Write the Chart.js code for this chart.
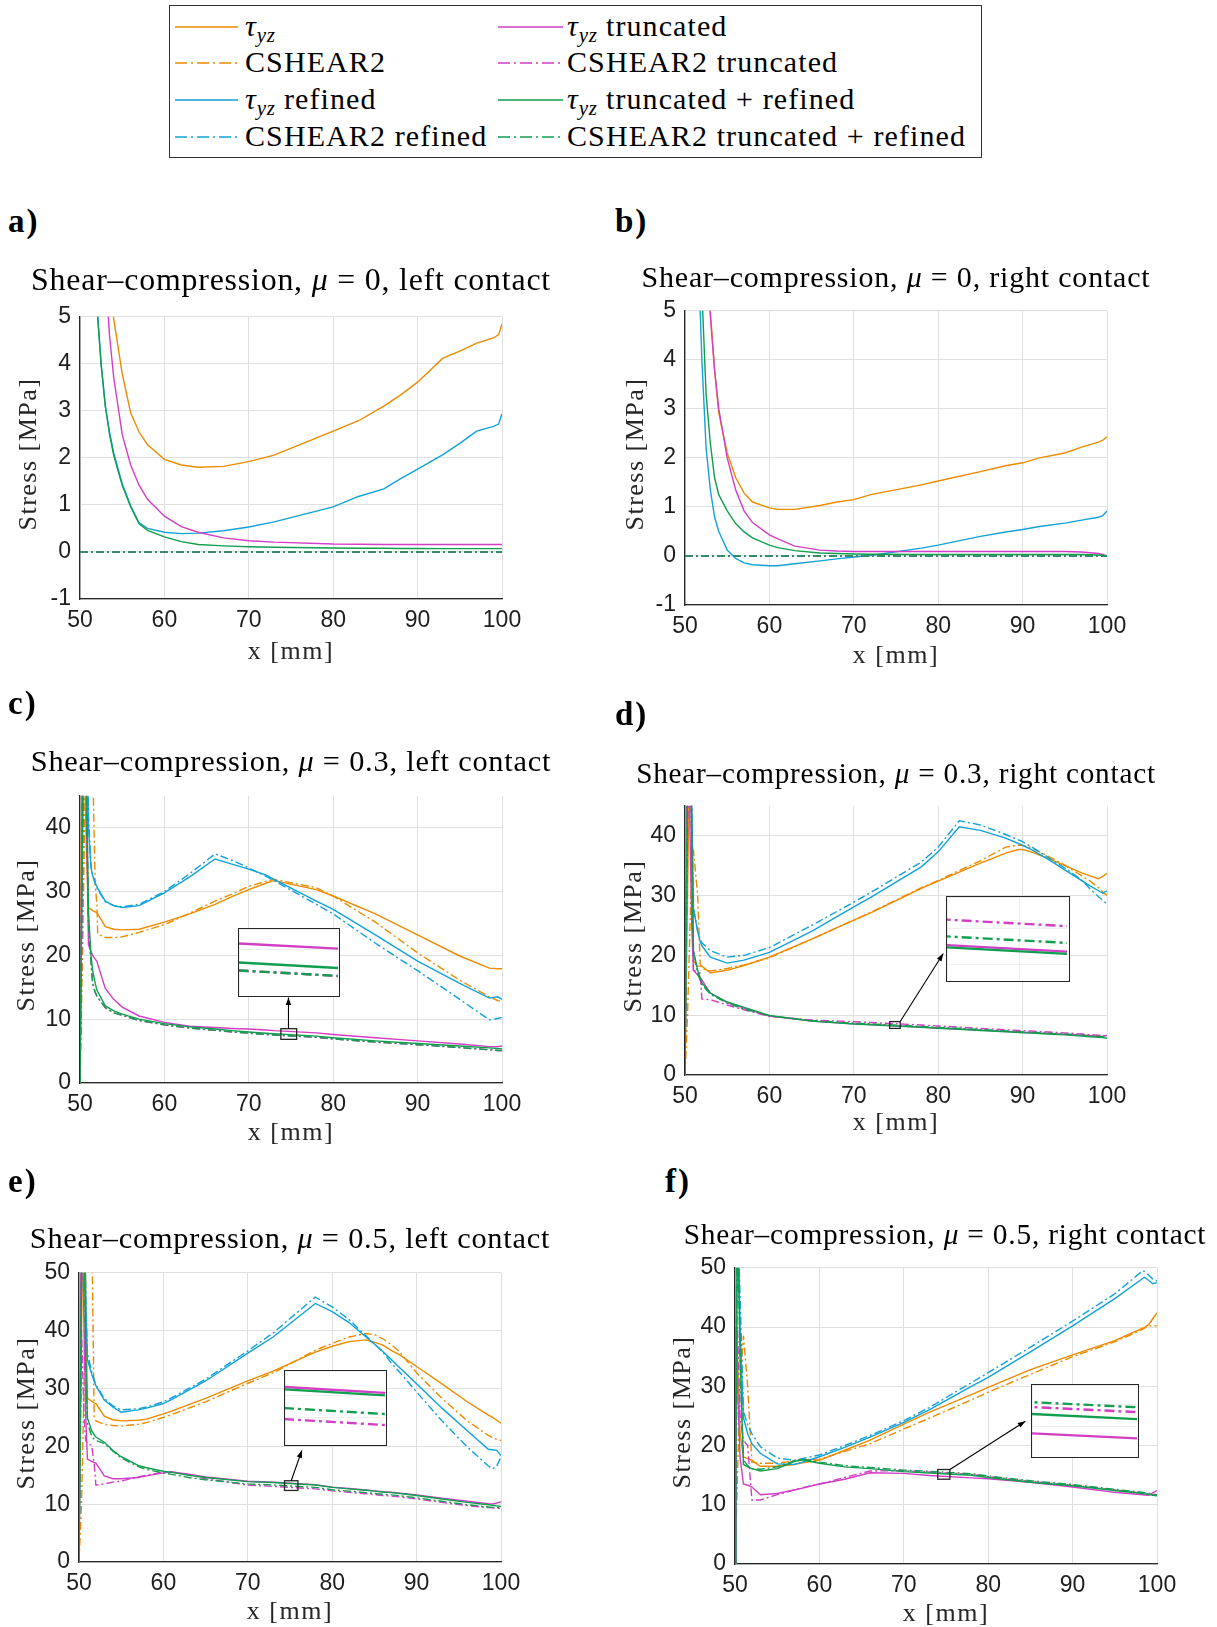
<!DOCTYPE html>
<html>
<head>
<meta charset="utf-8">
<title>Shear-compression stress</title>
<script src="https://cdn.jsdelivr.net/npm/chart.js@4.4.1/dist/chart.umd.min.js"></script>
<style>
  body { margin: 0; background: #fff; width: 1217px; height: 1627px; position: relative; overflow: hidden;
         font-family: "Liberation Serif", "Times New Roman", serif; color: #000; }
  canvas { display: block; }
  .ttl { position: absolute; width: 800px; text-align: center; line-height: 36px; white-space: nowrap; letter-spacing: 0.8px; }
  .ttl span { font-size: 30px; }
  .lbl { position: absolute; font-weight: bold; font-size: 33px; letter-spacing: 2px; line-height: 36px; }
  .axt { position: absolute; width: 300px; height: 30px; line-height: 30px; text-align: center; white-space: nowrap;
         font-size: 26px; letter-spacing: 1.5px; color: #262626; }
  .yt { transform: rotate(-90deg); }
  #legend { position: absolute; left: 169px; top: 5px; width: 813px; height: 153px; box-sizing: border-box; border: 1.2px solid #333; }
  .li { position: absolute; font-size: 30px; letter-spacing: 1.1px; line-height: 32px; white-space: nowrap; }
  .li sub, .ttl sub { font-size: 0.7em; font-style: italic; vertical-align: -0.3em; line-height: 0; letter-spacing: 0.5px; }
  .inset { position: absolute; box-sizing: border-box; border: 1.5px solid #262626; background: #fff; }
</style>
</head>
<body>
<div id="legend"></div>
<script>
// Shear stress along the contact, six load cases.

const NAMES = ["τyz", "CSHEAR2", "τyz refined", "CSHEAR2 refined",
  "τyz truncated", "CSHEAR2 truncated", "τyz truncated + refined", "CSHEAR2 truncated + refined"];
const COLORS = ["#ED8B00", "#ED8B00", "#12A2D8", "#12A2D8", "#D23EC6", "#D23EC6", "#119E4E", "#119E4E"];

const X_TICKS = [50, 60, 70, 80, 90, 100];
const Y_TICKS_MU0 = [-1, 0, 1, 2, 3, 4, 5];
const Y_TICKS_MU3 = [0, 10, 20, 30, 40];
const Y_TICKS_MU5 = [0, 10, 20, 30, 40, 50];

// CSHEAR2 is zero everywhere for mu = 0
const X_EDGE = [50, 100];
const ZERO_LINE = [0, 0];

// a) mu = 0, left contact
const XA = [50, 51, 52, 52.5, 53, 53.5, 54, 55, 56, 57, 58, 60, 62, 64, 67, 70, 73, 80, 83, 86, 88, 90, 93, 95, 97, 99, 99.6, 100];
const A_TAU = [40, 20, 10, 8.5, 7, 5.8, 4.95, 3.79, 2.96, 2.55, 2.28, 1.97, 1.85, 1.8, 1.82, 1.92, 2.06, 2.57, 2.79, 3.1, 3.34, 3.61, 4.12, 4.27, 4.44, 4.55, 4.62, 4.85];
const A_TAU_REF = [40, 12, 5.3, 4.0, 3.1, 2.55, 2.1, 1.45, 0.98, 0.62, 0.5, 0.42, 0.39, 0.4, 0.45, 0.53, 0.64, 0.96, 1.18, 1.34, 1.56, 1.76, 2.07, 2.31, 2.57, 2.67, 2.72, 2.94];
const A_TAU_TR = [40, 20, 9, 7.5, 6.0, 4.6, 3.7, 2.5, 1.85, 1.42, 1.12, 0.76, 0.54, 0.42, 0.3, 0.24, 0.21, 0.17, 0.165, 0.16, 0.16, 0.16, 0.16, 0.16, 0.16, 0.16, 0.16, 0.16];
const A_TAU_TRREF = [40, 12, 5.2, 4.0, 3.1, 2.5, 2.05, 1.42, 0.96, 0.6, 0.46, 0.32, 0.22, 0.16, 0.13, 0.11, 0.1, 0.085, 0.08, 0.08, 0.075, 0.075, 0.07, 0.07, 0.07, 0.07, 0.07, 0.07];

// b) mu = 0, right contact
const XB = [50, 51, 51.8, 52, 52.5, 53, 53.5, 54, 55, 56, 57, 58, 60, 61, 63, 66, 68, 70, 72, 78, 80, 85, 88, 90, 92, 95, 97, 99, 99.5, 100];
const B_TAU = [40, 20, 10, 8.5, 6.5, 5.0, 3.8, 2.92, 2.1, 1.6, 1.28, 1.1, 0.98, 0.95, 0.95, 1.03, 1.1, 1.15, 1.25, 1.45, 1.53, 1.72, 1.84, 1.9, 2.0, 2.1, 2.22, 2.32, 2.36, 2.43];
const B_TAU_REF = [40, 12, 5.0, 4.0, 2.2, 1.35, 0.8, 0.5, 0.12, -0.05, -0.14, -0.18, -0.2, -0.2, -0.16, -0.1, -0.06, -0.02, 0.01, 0.16, 0.22, 0.4, 0.49, 0.54, 0.6, 0.67, 0.73, 0.79, 0.82, 0.92];
const B_TAU_TR = [40, 20, 10, 8.5, 6.3, 4.9, 3.8, 3.0, 2.0, 1.35, 0.92, 0.68, 0.43, 0.35, 0.2, 0.12, 0.1, 0.09, 0.09, 0.09, 0.09, 0.09, 0.09, 0.09, 0.09, 0.09, 0.08, 0.05, 0.03, 0.0];
const B_TAU_TRREF = [40, 12, 6.5, 5.4, 3.3, 2.3, 1.6, 1.25, 0.92, 0.66, 0.49, 0.37, 0.22, 0.17, 0.11, 0.06, 0.05, 0.04, 0.035, 0.03, 0.03, 0.03, 0.03, 0.03, 0.03, 0.03, 0.03, 0.02, 0.01, 0.0];

// c) mu = 0.3, left contact
const XC = [50, 50.3, 50.6, 50.8, 51, 51.3, 51.5, 51.8, 52, 52.1, 53, 54, 55, 57, 60, 63, 66, 68, 70, 72, 73, 78, 80, 85, 90, 95, 98.5, 99.5, 100];
const C_TAU = [0, 70, 45, 35, 27.5, 27.2, 27.0, 26.8, 26.7, 26.5, 24.5, 24.1, 24.0, 24.1, 25.2, 26.5, 28.0, 29.2, 30.3, 31.3, 31.7, 30.3, 29.3, 26.5, 23.2, 19.9, 18.0, 17.9, 17.9];
const C_CS = [0, 20, 45, 70, 80, 70, 50, 31, 28, 23.3, 22.8, 22.8, 22.9, 23.6, 24.8, 26.6, 28.5, 29.6, 30.8, 31.6, 31.9, 30.6, 29.3, 25.2, 20.4, 16.1, 13.5, 12.9, 12.8];
const C_TAU_REF = [0, 40, 70, 60, 40, 33.8, 32.5, 31.3, 30.8, 30.5, 28.5, 27.8, 27.5, 27.8, 29.8, 32.3, 35.1, 34.3, 33.5, 32.6, 31.9, 28.5, 27.2, 23.2, 19.1, 15.6, 13.3, 13.5, 13.1];
const C_CS_REF = [0, 40, 70, 60, 42, 34, 32.5, 31.3, 30.6, 30.3, 28.4, 27.8, 27.6, 28.0, 30.0, 32.8, 35.9, 34.9, 33.7, 32.4, 31.7, 28.0, 26.5, 21.9, 17.6, 13.1, 9.9, 10.1, 10.3];
const C_TAU_TR = [0, 50, 70, 40, 21.7, 20.6, 20.0, 19.4, 19.1, 18.6, 14.8, 13.1, 11.9, 10.5, 9.5, 8.9, 8.7, 8.55, 8.45, 8.3, 8.2, 7.85, 7.6, 7.1, 6.6, 6.1, 5.7, 5.7, 5.8];
const C_CS_TR = [0, 30, 70, 45, 25, 19, 15.6, 14.2, 13.6, 13.4, 11.8, 11.0, 10.6, 9.8, 9.1, 8.6, 8.25, 8.0, 7.8, 7.6, 7.52, 7.15, 6.9, 6.4, 6.0, 5.55, 5.2, 5.1, 5.1];
const C_TAU_TRREF = [0, 40, 70, 45, 27, 20, 17.6, 15.6, 14.6, 14.3, 12.1, 11.3, 10.8, 10.0, 9.3, 8.8, 8.45, 8.2, 8.0, 7.8, 7.72, 7.35, 7.1, 6.6, 6.2, 5.8, 5.5, 5.4, 5.35];
const C_CS_TRREF = [0, 50, 60, 40, 25, 19, 15.6, 14.2, 13.6, 13.4, 11.8, 11.0, 10.6, 9.8, 9.1, 8.6, 8.25, 8.0, 7.8, 7.6, 7.52, 7.15, 6.9, 6.4, 6.0, 5.55, 5.2, 5.1, 5.1];

// d) mu = 0.3, right contact
const XD = [50, 50.3, 50.6, 50.8, 51, 51.5, 51.8, 52, 53, 55, 57, 60, 65, 70, 72, 78, 80, 82.5, 85, 88, 89.5, 90, 91, 93, 95, 97, 98, 99, 99.5, 100];
const D_TAU = [0, 30, 60, 40, 19, 18.2, 18.2, 18.2, 17.1, 17.5, 18.3, 19.7, 22.7, 25.9, 27.1, 31.2, 32.4, 33.9, 35.4, 37.1, 37.7, 37.7, 37.3, 36.2, 35.0, 33.8, 33.3, 32.8, 33.2, 33.7];
const D_CS = [0, 10, 25, 35, 37.7, 30, 18.6, 17.8, 17.4, 17.8, 18.4, 19.6, 22.7, 25.9, 27.2, 31.3, 32.5, 34.2, 35.8, 38.1, 38.4, 38.4, 38.0, 36.6, 35.1, 33.3, 32.4, 31.3, 30.6, 30.0];
const D_TAU_REF = [0, 50, 70, 45, 27.8, 24, 22.3, 21.6, 19.7, 18.7, 19.2, 20.5, 24.0, 28.1, 29.7, 34.8, 37.3, 41.5, 40.9, 39.6, 38.7, 38.4, 37.7, 36.1, 34.3, 32.5, 31.6, 30.8, 30.4, 30.8];
const D_CS_REF = [0, 50, 70, 45, 28, 24, 22.8, 22.1, 20.8, 19.7, 20.0, 21.3, 25.0, 28.9, 30.5, 35.6, 38.1, 42.5, 41.8, 40.2, 39.3, 39.0, 38.2, 36.4, 34.6, 32.6, 31.1, 29.8, 29.2, 28.6];
const D_TAU_TR = [0, 70, 40, 25, 17.5, 16.7, 16.2, 15.9, 13.7, 12.1, 11.2, 9.85, 9.0, 8.55, 8.43, 8.0, 7.85, 7.7, 7.5, 7.3, 7.2, 7.15, 7.1, 6.95, 6.8, 6.65, 6.55, 6.45, 6.5, 6.6];
const D_CS_TR = [0, 40, 60, 30, 17.5, 17.2, 17.0, 12.7, 12.6, 11.7, 10.9, 9.8, 9.2, 8.9, 8.78, 8.35, 8.2, 8.0, 7.8, 7.55, 7.45, 7.4, 7.35, 7.2, 7.05, 6.85, 6.75, 6.65, 6.6, 6.5];
const D_TAU_TRREF = [0, 50, 70, 40, 20.8, 17.5, 16.2, 15.4, 13.7, 12.2, 11.3, 9.95, 9.0, 8.52, 8.4, 7.97, 7.82, 7.65, 7.45, 7.22, 7.1, 7.05, 7.0, 6.85, 6.7, 6.5, 6.4, 6.3, 6.25, 6.15];
const D_CS_TRREF = [0, 50, 70, 40, 20.8, 17.0, 15.8, 15.1, 13.5, 12.0, 11.0, 9.9, 9.1, 8.66, 8.55, 8.12, 7.96, 7.8, 7.6, 7.37, 7.25, 7.2, 7.15, 7.0, 6.85, 6.65, 6.55, 6.45, 6.4, 6.3];

// e) mu = 0.5, left contact
const XE = [50, 50.3, 50.6, 50.8, 51, 51.5, 51.8, 52, 53, 54, 55, 57, 58, 60, 61, 63, 65, 70, 73, 78, 80, 82, 84, 85, 86, 87, 88, 90, 93, 96, 98.5, 99, 99.5, 100];
const E_TAU = [0, 40, 70, 45, 28.3, 27.8, 27.5, 27.4, 25.2, 24.6, 24.4, 24.5, 24.7, 25.6, 26.1, 27.2, 28.3, 31.3, 33.0, 36.3, 37.3, 38.1, 38.4, 38.0, 37.5, 36.6, 35.8, 33.8, 30.8, 27.7, 25.4, 25.0, 24.5, 24.0];
const E_CS = [0, 10, 30, 60, 80, 60, 25.0, 24.4, 23.8, 23.6, 23.5, 23.8, 24.1, 25.0, 25.5, 26.6, 27.7, 30.9, 32.7, 36.6, 37.8, 38.9, 39.5, 39.3, 38.6, 37.6, 36.3, 32.7, 28.3, 24.4, 21.9, 21.5, 21.2, 21.0];
const E_TAU_REF = [0, 50, 70, 45, 35, 32.5, 31.2, 30.5, 28.0, 26.8, 25.9, 26.3, 26.6, 27.4, 28.1, 29.7, 31.3, 36.1, 38.9, 44.7, 43.3, 41.4, 38.9, 37.7, 36.4, 35.0, 33.6, 30.8, 26.6, 22.7, 19.5, 19.4, 19.3, 18.4];
const E_CS_REF = [0, 50, 70, 45, 36, 33, 31.5, 30.6, 28.3, 27.0, 26.3, 26.5, 26.8, 27.7, 28.4, 30.0, 31.6, 36.5, 39.6, 45.8, 44.1, 41.9, 39.1, 37.7, 36.3, 34.4, 32.8, 29.4, 24.4, 19.9, 16.6, 16.1, 16.6, 18.2];
const E_TAU_TR = [0, 70, 40, 25, 17.8, 17.4, 17.2, 17.1, 14.9, 14.4, 14.4, 14.6, 14.9, 15.4, 15.55, 15.2, 14.7, 13.95, 13.8, 13.38, 12.95, 12.7, 12.45, 12.3, 12.15, 12.05, 11.9, 11.6, 11.05, 10.5, 10.1, 10.05, 10.2, 10.4];
const E_CS_TR = [0, 40, 25, 21, 20.5, 20.2, 17, 13.3, 13.5, 13.8, 14.0, 14.7, 15.0, 15.55, 15.55, 15.1, 14.4, 13.3, 13.07, 12.65, 12.3, 12.05, 11.8, 11.65, 11.5, 11.4, 11.25, 10.9, 10.3, 9.75, 9.4, 9.35, 9.3, 9.3];
const E_TAU_TRREF = [0, 50, 60, 35, 24.9, 22.7, 22.0, 21.6, 20.7, 19.3, 18.2, 16.7, 16.3, 15.7, 15.5, 15.0, 14.6, 13.9, 13.75, 13.32, 12.9, 12.65, 12.4, 12.25, 12.1, 12.0, 11.85, 11.5, 10.9, 10.3, 9.9, 9.8, 9.7, 9.6];
const E_CS_TRREF = [0, 50, 60, 35, 24, 21.8, 21.2, 21.0, 20.5, 19.2, 18.0, 16.5, 16.0, 15.4, 15.15, 14.6, 14.2, 13.5, 13.32, 12.9, 12.5, 12.25, 12.0, 11.85, 11.7, 11.6, 11.45, 11.1, 10.5, 9.9, 9.5, 9.45, 9.4, 9.35];

// f) mu = 0.5, right contact
const XF = [50, 50.1, 50.3, 50.6, 51, 51.5, 52, 53, 55, 57, 58, 60, 63, 66, 70, 73, 78, 80, 85, 90, 95, 98.3, 98.5, 99, 99.5, 100];
const F_TAU = [0, 47, 35, 22, 18.1, 17.8, 17.5, 16.5, 16.5, 16.8, 17.1, 17.5, 19.2, 20.9, 23.6, 25.6, 28.6, 29.8, 32.8, 35.3, 37.7, 39.8, 39.9, 40.4, 41.4, 42.4];
const F_CS = [0, 5, 15, 30, 38.5, 30, 17.2, 17.0, 17.0, 17.4, 17.6, 17.7, 19.0, 20.3, 22.8, 24.6, 27.7, 29.0, 32.0, 35.0, 37.5, 39.6, 39.8, 40.2, 40.2, 40.2];
const F_TAU_REF = [0, 30, 60, 40, 24.7, 22.0, 20.3, 18.7, 16.9, 16.8, 17.2, 18.1, 19.7, 21.4, 23.9, 26.0, 30.0, 31.5, 35.8, 40.2, 44.8, 48.2, 48.4, 47.9, 47.3, 47.5];
const F_CS_REF = [0, 30, 60, 45, 25.8, 23.5, 22.0, 19.8, 17.9, 17.5, 17.8, 18.4, 20.0, 21.7, 24.2, 26.4, 30.6, 32.3, 36.6, 41.0, 45.6, 49.5, 49.4, 48.8, 48.1, 47.8];
const F_TAU_TR = [0, 40, 30, 18, 13.5, 13.3, 13.0, 11.7, 11.9, 12.5, 12.8, 13.5, 14.3, 15.4, 15.3, 14.93, 14.53, 14.4, 13.8, 13.0, 12.1, 11.7, 11.65, 11.6, 12.0, 12.4];
const F_CS_TR = [0, 10, 40, 25, 20.9, 20, 10.8, 10.8, 11.7, 12.5, 12.9, 13.5, 14.6, 15.7, 15.75, 15.53, 15.13, 14.75, 13.95, 13.3, 12.5, 12.0, 11.95, 11.85, 11.7, 11.6];
const F_TAU_TRREF = [0, 20, 60, 35, 16.8, 16.4, 16.1, 15.7, 16.1, 17.3, 17.6, 17.0, 16.4, 16.1, 15.6, 15.37, 14.97, 14.6, 13.8, 13.2, 12.4, 11.9, 11.85, 11.75, 11.6, 11.5];
const F_CS_TRREF = [0, 20, 60, 35, 17.6, 16.6, 16.1, 16.0, 16.4, 17.4, 17.7, 17.2, 16.6, 16.3, 15.85, 15.64, 15.24, 14.85, 14.05, 13.4, 12.6, 12.1, 12.05, 11.95, 11.8, 11.7];

// page layout: plot box [left, top, right, bottom] in px, text anchors
const PANELS = [
  { tag: "a)", lbl: [8, 221], box: [80, 308, 502, 599], yRange: [-1, 5], yTicks: Y_TICKS_MU0,
    title: "Shear–compression, <i>μ</i> = 0, left contact", tc: [291, 280], tw: 522, ytx: 28, xty: 651,
    series: [[XA, A_TAU], [X_EDGE, ZERO_LINE], [XA, A_TAU_REF], [X_EDGE, ZERO_LINE],
             [XA, A_TAU_TR], [X_EDGE, ZERO_LINE], [XA, A_TAU_TRREF], [X_EDGE, ZERO_LINE]] },
  { tag: "b)", lbl: [615, 221], box: [685, 302, 1107, 605], yRange: [-1, 5], yTicks: Y_TICKS_MU0,
    title: "Shear–compression, <i>μ</i> = 0, right contact", tc: [896, 277], tw: 509, ytx: 635, xty: 655,
    series: [[XB, B_TAU], [X_EDGE, ZERO_LINE], [XB, B_TAU_REF], [X_EDGE, ZERO_LINE],
             [XB, B_TAU_TR], [X_EDGE, ZERO_LINE], [XB, B_TAU_TRREF], [X_EDGE, ZERO_LINE]] },
  { tag: "c)", lbl: [8, 703], box: [80, 787, 502, 1083], yRange: [0, 45], yTicks: Y_TICKS_MU3,
    title: "Shear–compression, <i>μ</i> = 0.3, left contact", tc: [291, 761], tw: 521, ytx: 26, xty: 1132,
    series: [[XC, C_TAU], [XC, C_CS], [XC, C_TAU_REF], [XC, C_CS_REF],
             [XC, C_TAU_TR], [XC, C_CS_TR], [XC, C_TAU_TRREF], [XC, C_CS_TRREF]],
    inset: { win: { x: [73.8, 75.67], y: [6.84, 8.51] }, box: { x: [68.76, 80.8], y: [13.48, 24.23] },
             arrow: [[74.7, 8.51], [74.7, 13.4]] } },
  { tag: "d)", lbl: [615, 714], box: [685, 797, 1107, 1075], yRange: [0, 45], yTicks: Y_TICKS_MU3,
    title: "Shear–compression, <i>μ</i> = 0.3, right contact", tc: [896, 773], tw: 519, ytx: 633, xty: 1122,
    series: [[XD, D_TAU], [XD, D_CS], [XD, D_TAU_REF], [XD, D_CS_REF],
             [XD, D_TAU_TR], [XD, D_CS_TR], [XD, D_TAU_TRREF], [XD, D_CS_TRREF]],
    inset: { win: { x: [74.25, 75.5], y: [7.79, 8.93] }, box: { x: [80.98, 95.57], y: [15.58, 29.98] },
             arrow: [[75.5, 8.93], [80.6, 20.3]] } },
  { tag: "e)", lbl: [8, 1181], box: [79, 1264, 501, 1562], yRange: [0, 50], yTicks: Y_TICKS_MU5,
    title: "Shear–compression, <i>μ</i> = 0.5, left contact", tc: [290, 1238], tw: 521, ytx: 26, xty: 1611,
    series: [[XE, E_TAU], [XE, E_CS], [XE, E_TAU_REF], [XE, E_CS_REF],
             [XE, E_TAU_TR], [XE, E_CS_TR], [XE, E_TAU_TRREF], [XE, E_CS_TRREF]],
    inset: { win: { x: [74.35, 75.94], y: [12.37, 14.05] }, box: { x: [74.34, 86.55], y: [20.0, 33.28] },
             arrow: [[75.14, 14.05], [76.41, 19.3]] } },
  { tag: "f)", lbl: [665, 1181], box: [735, 1259, 1157, 1564], yRange: [0, 50], yTicks: Y_TICKS_MU5,
    title: "Shear–compression, <i>μ</i> = 0.5, right contact", tc: [945, 1234], tw: 522, ytx: 682, xty: 1613,
    series: [[XF, F_TAU], [XF, F_CS], [XF, F_TAU_REF], [XF, F_CS_REF],
             [XF, F_TAU_TR], [XF, F_CS_TR], [XF, F_TAU_TRREF], [XF, F_CS_TRREF]],
    inset: { win: { x: [74.02, 75.46], y: [14.31, 15.95] }, box: { x: [85.1, 97.9], y: [17.82, 30.44] },
             arrow: [[75.46, 15.95], [84.4, 24.1]] } },
];

const DASHDOT = [8, 3, 2, 3];
const INSET_DASH = [10, 4, 3, 4];
const AXW = 60, AXH = 42, PADT = 14, PADR = 30;
const INK = "#262626";

Chart.defaults.font.family = "'Liberation Sans', Arial, sans-serif";
Chart.defaults.color = INK;

function pts(xs, ys) { return xs.map((x, i) => ({ x, y: ys[i] })); }

function makeDatasets(series, width, dash) {
  return series.map(([xs, ys], i) => ({
    label: NAMES[i], data: pts(xs, ys),
    borderColor: COLORS[i], borderWidth: width, borderDash: i % 2 ? dash : [],
    pointRadius: 0, tension: 0, fill: false, clip: 0, order: 8 - i,
  }));
}

// little box around the zoomed window + arrow to the inset
function markPlugin(q) {
  return {
    id: "zoomMark",
    afterDatasetsDraw(chart) {
      const { ctx, scales: { x, y } } = chart;
      const px = v => x.getPixelForValue(v), py = v => y.getPixelForValue(v);
      ctx.save();
      ctx.strokeStyle = INK; ctx.lineWidth = 1.3;
      ctx.strokeRect(px(q.win.x[0]), py(q.win.y[1]), px(q.win.x[1]) - px(q.win.x[0]), py(q.win.y[0]) - py(q.win.y[1]));
      const x0 = px(q.arrow[0][0]), y0 = py(q.arrow[0][1]), x1 = px(q.arrow[1][0]), y1 = py(q.arrow[1][1]);
      ctx.strokeStyle = "#000"; ctx.lineWidth = 1.1;
      ctx.beginPath(); ctx.moveTo(x0, y0); ctx.lineTo(x1, y1); ctx.stroke();
      const a = Math.atan2(y1 - y0, x1 - x0), h = 8;
      ctx.beginPath(); ctx.moveTo(x1, y1);
      ctx.lineTo(x1 - h * Math.cos(a - 0.35), y1 - h * Math.sin(a - 0.35));
      ctx.lineTo(x1 - h * Math.cos(a + 0.35), y1 - h * Math.sin(a + 0.35));
      ctx.closePath(); ctx.fillStyle = "#000"; ctx.fill();
      ctx.restore();
    },
  };
}

function addText(cls, html, left, top) {
  const d = document.createElement("div");
  d.className = cls; d.innerHTML = html;
  d.style.left = left + "px"; d.style.top = top + "px";
  document.body.appendChild(d);
  return d;
}

function drawPanel(p) {
  const [L, T, R, B] = p.box;
  const cv = document.createElement("canvas");
  cv.width = R - L + AXW + PADR; cv.height = B - T + PADT + AXH;
  cv.style.cssText = `position:absolute;left:${L - AXW}px;top:${T - PADT}px`;
  document.body.appendChild(cv);

  const grid = { color: "#e0e0e0", lineWidth: 1, drawTicks: false };
  const border = { color: INK, width: 1.3 };
  const ticks = { color: "#1e1e1e", font: { size: 23 }, padding: 9, maxRotation: 0, callback: v => String(v) };

  const chart = new Chart(cv, {
    type: "line",
    data: { datasets: makeDatasets(p.series, 1.4, DASHDOT) },
    options: {
      responsive: false, animation: false, events: [],
      layout: { padding: { top: PADT, right: PADR, left: 0, bottom: 0 } },
      plugins: { legend: { display: false }, tooltip: { enabled: false } },
      scales: {
        x: { type: "linear", min: 50, max: 100, grid, border, ticks: { ...ticks, padding: 8 },
             afterBuildTicks: s => { s.ticks = X_TICKS.map(v => ({ value: v })); },
             afterFit: s => { s.height = AXH; } },
        y: { type: "linear", min: p.yRange[0], max: p.yRange[1], grid, border, ticks,
             afterBuildTicks: s => { s.ticks = p.yTicks.map(v => ({ value: v })); },
             afterFit: s => { s.width = AXW; } },
      },
    },
    plugins: p.inset ? [markPlugin(p.inset)] : [],
  });

  // texts
  const t = addText("ttl", `<span>${p.title}</span>`, p.tc[0] - 400, p.tc[1] - 18);
  const sp = t.firstChild;
  sp.style.fontSize = (30 * p.tw / sp.getBoundingClientRect().width).toFixed(2) + "px";
  addText("lbl", p.tag, p.lbl[0], p.lbl[1] - 18);
  addText("axt yt", "Stress [MPa]", p.ytx - 150, (T + B) / 2 - 15);
  addText("axt", "x [mm]", (L + R) / 2 - 150, p.xty - 15);

  if (!p.inset) return;
  const q = p.inset, xs = chart.scales.x, ys = chart.scales.y;
  const ox = L - AXW, oy = T - PADT;
  const left = ox + xs.getPixelForValue(q.box.x[0]), right = ox + xs.getPixelForValue(q.box.x[1]);
  const top = oy + ys.getPixelForValue(q.box.y[1]), bottom = oy + ys.getPixelForValue(q.box.y[0]);
  const div = document.createElement("div");
  div.className = "inset";
  div.style.cssText = `left:${left}px;top:${top}px;width:${right - left}px;height:${bottom - top}px`;
  const ic = document.createElement("canvas");
  ic.width = Math.round(right - left - 3); ic.height = Math.round(bottom - top - 3);
  div.appendChild(ic);
  document.body.appendChild(div);
  const igrid = { color: "#efefef", drawTicks: false };
  new Chart(ic, {
    type: "line",
    data: { datasets: makeDatasets(p.series, 2.4, INSET_DASH) },
    options: {
      responsive: false, animation: false, events: [], layout: { padding: 0 },
      plugins: { legend: { display: false }, tooltip: { enabled: false } },
      scales: {
        x: { type: "linear", min: q.win.x[0], max: q.win.x[1], ticks: { display: false }, grid: igrid, border: { display: false } },
        y: { type: "linear", min: q.win.y[0], max: q.win.y[1], ticks: { display: false }, grid: igrid, border: { display: false } },
      },
    },
  });
}

// legend
const LEG_ROWS = [26.7, 63.3, 100, 136.7];
const LEG_COLS = [[175, 238, 245], [498, 563, 567]];
NAMES.forEach((name, i) => {
  const [x0, x1, tx] = LEG_COLS[i < 4 ? 0 : 1], cy = LEG_ROWS[i % 4];
  const svg = document.createElementNS("http://www.w3.org/2000/svg", "svg");
  svg.setAttribute("width", x1 - x0); svg.setAttribute("height", 4);
  svg.style.cssText = `position:absolute;left:${x0}px;top:${cy - 2}px`;
  const ln = document.createElementNS("http://www.w3.org/2000/svg", "line");
  ln.setAttribute("x1", 0); ln.setAttribute("x2", x1 - x0); ln.setAttribute("y1", 2); ln.setAttribute("y2", 2);
  ln.setAttribute("stroke", COLORS[i]); ln.setAttribute("stroke-width", 1.6);
  if (i % 2) ln.setAttribute("stroke-dasharray", "12 4 2 4");
  svg.appendChild(ln); document.body.appendChild(svg);
  const html = name.replace("τyz", "<i>τ</i><sub>yz</sub>");
  addText("li", html, tx, cy - 17);
});

PANELS.forEach(drawPanel);
</script>
</body>
</html>
